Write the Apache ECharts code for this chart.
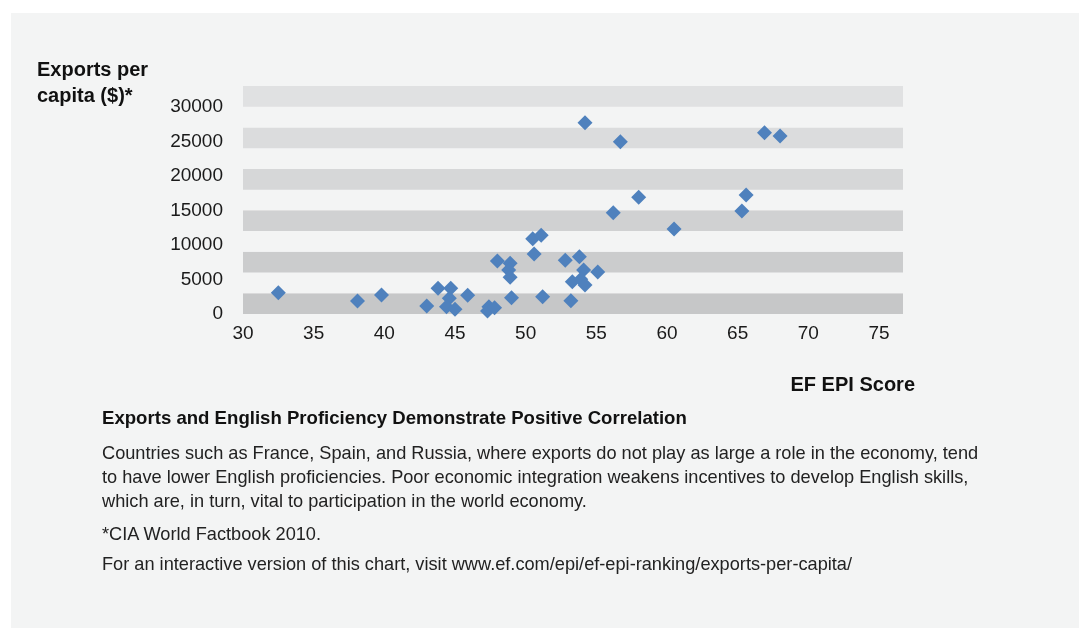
<!DOCTYPE html>
<html>
<head>
<meta charset="utf-8">
<script src="https://cdn.jsdelivr.net/npm/echarts@6/dist/echarts.min.js"></script>
<style>
  html, body { margin: 0; padding: 0; background: #ffffff; }
  #panel { position: absolute; left: 11px; top: 13px; width: 1068px; height: 615px; background: #f3f4f4; }
  #chart { position: absolute; left: 0; top: 0; width: 1079px; height: 628px; }
  .cap { position: absolute; left: 102px; font-family: "Liberation Sans", Arial, sans-serif; color: #222; white-space: nowrap; font-size: 18.2px; }
  .cap.title { font-weight: bold; font-size: 18.6px; color: #111; }
</style>
</head>
<body>
<div id="panel"></div>
<div id="chart"></div>
<div class="cap title" style="top:407px">Exports and English Proficiency Demonstrate Positive Correlation</div>
<div class="cap" style="top:441px;line-height:24px">Countries such as France, Spain, and Russia, where exports do not play as large a role in the economy, tend<br>to have lower English proficiencies. Poor economic integration weakens incentives to develop English skills,<br>which are, in turn, vital to participation in the world economy.</div>
<div class="cap" style="top:524px">*CIA World Factbook 2010.</div>
<div class="cap" style="top:554px">For an interactive version of this chart, visit www.ef.com/epi/ef-epi-ranking/exports-per-capita/</div>
<script>
// EF EPI score vs exports per capita (US$)
const epiScores = [
  32.5, 38.1, 39.8, 43.0, 43.8, 44.7, 44.6, 44.4, 45.0, 45.9,
  47.4, 47.3, 47.8, 48.0, 48.9, 48.8, 48.9, 49.0, 50.5, 51.1,
  50.6, 51.2, 52.8, 53.8, 54.1, 55.1, 53.3, 53.9, 54.2, 53.2,
  54.2, 56.7, 66.9, 68.0, 58.0, 56.2, 65.6, 65.3, 60.5
];
const exportsPerCapita = [
  3080, 1880, 2750, 1160, 3720, 3720, 2270, 1060, 680, 2700,
  1060, 430, 910, 7670, 7330, 6370, 5310, 2360, 10900, 11400,
  8680, 2500, 7770, 8290, 6370, 6080, 4680, 5020, 4200, 1900,
  27680, 24930, 26230, 25760, 16880, 14660, 17220, 14900, 12300
];
const bandColors = ['#c6c7c8', '#f3f4f4', '#cbcccd', '#f3f4f4', '#d0d1d2', '#f3f4f4',
                    '#d6d7d8', '#f3f4f4', '#dbdcdd', '#f3f4f4', '#e0e1e2'];

const font = '"Liberation Sans", Arial, sans-serif';
const points = epiScores.map((x, i) => [x, exportsPerCapita[i]]);

echarts.init(document.getElementById('chart')).setOption({
  animation: false,
  grid: { left: 243, top: 86, width: 660, height: 228 },
  xAxis: {
    type: 'value', min: 30, max: 76.7, interval: 5,
    axisLine: { show: false }, axisTick: { show: false }, splitLine: { show: false },
    axisLabel: { color: '#1a1a1a', fontFamily: font, fontSize: 19, margin: 10, showMaxLabel: false }
  },
  yAxis: [
    {
      // band axis: 11 equal stripes
      type: 'value', min: 0, max: 33000, interval: 3000,
      axisLine: { show: false }, axisTick: { show: false }, axisLabel: { show: false },
      splitLine: { show: false },
      splitArea: { show: true, areaStyle: { color: bandColors } }
    },
    {
      type: 'value', position: 'left', min: 0, max: 33000, interval: 5000,
      axisLine: { show: false }, axisTick: { show: false }, splitLine: { show: false },
      axisLabel: {
        color: '#1a1a1a', fontFamily: font, fontSize: 19, margin: 20, showMaxLabel: false,
        padding: [0, 0, 5, 0], formatter: v => String(v)
      }
    }
  ],
  graphic: [
    { type: 'text', left: 37, top: 57, style: { text: 'Exports per\ncapita ($)*', font: 'bold 20px ' + font, fill: '#111', lineHeight: 26 } },
    { type: 'text', right: 1079 - 915, top: 375, style: { text: 'EF EPI Score', font: 'bold 20px ' + font, fill: '#111' } }
  ],
  series: [{
    type: 'scatter',
    yAxisIndex: 0,
    symbol: 'diamond',
    symbolSize: 15,
    itemStyle: { color: '#4f81bd', opacity: 1 },
    data: points
  }]
});
</script>
</body>
</html>
